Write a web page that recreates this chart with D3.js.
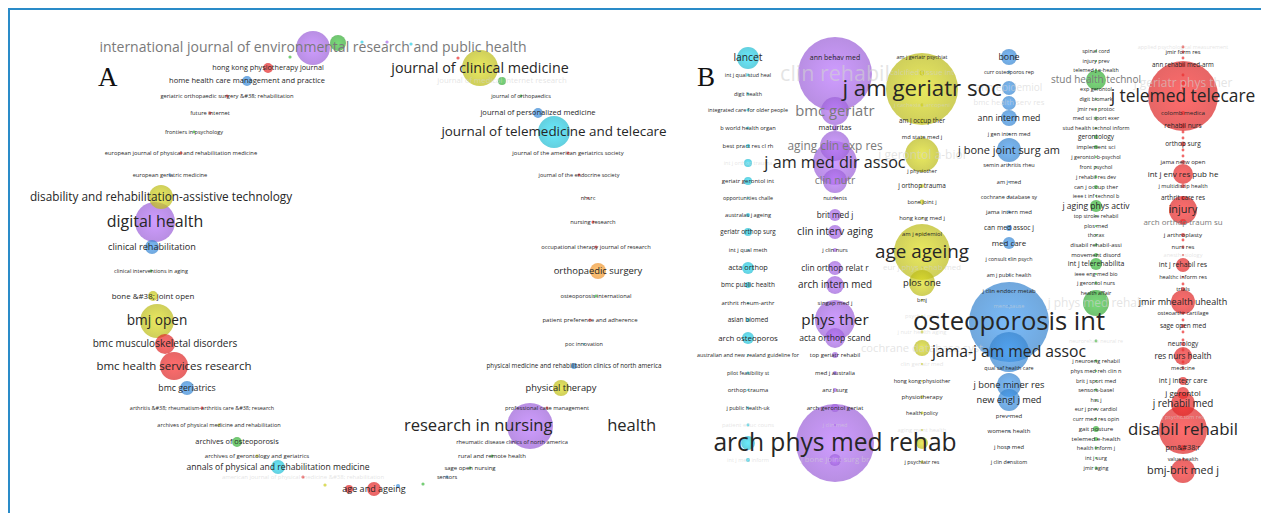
<!DOCTYPE html>
<html>
<head>
<meta charset="utf-8">
<script src="https://cdn.jsdelivr.net/npm/d3@7"></script>
<style>
  body { margin: 0; background: #fff; }
  text { font-family: "Open Sans", sans-serif; }
</style>
</head>
<body>
<div id="main"></div>
<script>
/* Size */
const width = 1261, height = 513;

/* Panel A : journals  [name, x, y, label score, node weight] */
const purpleA = [
  ["international journal of environmental research and public health", -0.27, 2.22, 44, 72],
  ["digital health", -1.85, 0.48, 54, 100],
  ["research in nursing &#38; health", 1.90, -1.56, 57, 132],
  ["rheumatic disease clinics of north america", 1.72, -1.72, 1.5, 0.6]
];
const redA = [
  ["hong kong physiotherapy journal", -0.72, 2.02, 9.5, 6],
  ["geriatric orthopaedic surgery &#38; rehabilitation", -1.13, 1.74, 2, 0.6],
  ["future internet", -1.30, 1.57, 2, 0.6],
  ["european journal of physical and rehabilitation medicine", -1.59, 1.17, 2, 0.6],
  ["bmc musculoskeletal disorders", -1.75, -0.74, 23.5, 25],
  ["bmc health services research", -1.66, -0.96, 31, 49],
  ["arthritis &#38; rheumatism-arthritis care &#38; research", -1.38, -1.38, 0.5, 0.5],
  ["american journal of physical medicine &#38; rehabilitation", -0.37, -2.07, 3, 0.6],
  ["age and ageing", 0.34, -2.19, 18.5, 12],
  ["professional case management", 2.07, -1.38, 2, 0.5],
  ["patient preference and adherence", 2.50, -0.50, 3, 0.6],
  ["occupational therapy journal of research", 2.56, 0.23, 2, 0.6],
  ["nursing research", 2.53, 0.48, 2, 0.6],
  ["nhsrc", 2.48, 0.72, 1.5, 0.3],
  ["journal of the endocrine society", 2.39, 0.95, 0.5, 0.5],
  ["journal of the american geriatrics society", 2.28, 1.17, 2.5, 0.6]
];
const blueA = [
  ["home health care management and practice", -0.93, 1.89, 11, 6],
  ["european geriatric medicine", -1.70, 0.95, 1.5, 0.5],
  ["clinical rehabilitation", -1.88, 0.23, 19, 12],
  ["bmc geriatrics", -1.53, -1.18, 17, 12],
  ["sensors", 1.07, -2.07, 1, 0.5],
  ["physical medicine and rehabilitation clinics of north america", 2.34, -0.96, 4.5, 2.25],
  ["journal of personalized medicine", 1.98, 1.57, 11, 6]
];
const greenA = [
  ["frontiers in psychology", -1.46, 1.38, 0.5, 0.5],
  ["clinical interventions in aging", -1.89, -0.01, 0.5, 0.5],
  ["archives of osteoporosis", -1.03, -1.72, 10, 6],
  ["sage open nursing", 1.30, -1.98, 3, 0.5],
  ["rural and remote health", 1.52, -1.86, 3.5, 0.6],
  ["osteoporosis international", 2.56, -0.26, 2, 0.6],
  ["journal of orthopaedics", 1.81, 1.74, 0.5, 0.5],
  ["journal of medical internet research", 1.62, 1.89, 12, 4]
];
const yellowA = [
  ["disability and rehabilitation-assistive technology", -1.79, 0.73, 32.5, 36],
  ["bone &#38; joint open", -1.87, -0.26, 13, 6],
  ["bmj open", -1.83, -0.51, 42, 72],
  ["archives of physical medicine and rehabilitation", -1.21, -1.55, 1, 0.5],
  ["archives of gerontology and geriatrics", -0.83, -1.86, 3, 0.5],
  ["physical therapy", 2.21, -1.18, 20, 16],
  ["journal of clinical medicine", 1.40, 2.02, 45.5, 81]
];
const cyanA = [
  ["annals of physical and rehabilitation medicine", -0.62, -1.97, 16.3, 12],
  ["journal of telemedicine and telecare", 2.14, 1.38, 41, 64],
  ["poc innovation", 2.44, -0.74, 0.5, 0.3]
];
const orangeA = [
  ["orthopaedic surgery", 2.58, -0.01, 20.5, 16]
];
/* nodes whose labels are not shown  [cluster, x, y, weight] */
const dotsA = [
  ["green", -0.02, 2.27, 16], ["green", -0.50, 2.13, 0.6], ["cyan", 0.22, 2.28, 0.6],
  ["purple", 0.47, 2.28, 0.6], ["cyan", 0.71, 2.26, 0.6], ["red", 1.18, 2.12, 0.6],
  ["red", 0.09, -2.19, 4], ["blue", 0.58, -2.16, 1], ["green", 0.83, -2.14, 0.6],
  ["yellow", -0.15, -2.15, 0.6]
];
const fadedA = ["journal of medical internet research", "american journal of physical medicine &#38; rehabilitation"];
const greyA = ["international journal of environmental research and public health"];
const maskedA = ["research in nursing &#38; health"];

/* Panel B : cited sources, one column per cluster  [name, y, label score, node weight] */
const clustersB = ["cyan", "purple", "yellow", "blue", "green", "red"];
const cyanB = [
  ["lancet", 2.12, 25, 30], ["int j qual stud heal", 1.95, 0, 0.5], ["digit health", 1.76, 0, 0.5],
  ["integrated care for older people", 1.60, 0, 0.5], ["b world health organ", 1.42, 1.5, 0.5],
  ["best pract res cl rh", 1.24, 2.5, 1], ["int j orthop trauma", 1.07, 0.5, 4],
  ["geriatr gerontol int", 0.89, 3, 4], ["opportunities challe", 0.72, 0, 0.3],
  ["australas j ageing", 0.55, 1.5, 1], ["geriatr orthop surg", 0.38, 4.5, 4],
  ["int j qual meth", 0.20, 1.5, 0.3], ["acta orthop", 0.02, 10, 9],
  ["bmc public health", -0.15, 5.5, 2.25], ["arthrit rheum-arthr", -0.33, 2.5, 0.3],
  ["asian biomed", -0.50, 5.5, 1], ["arch osteoporos", -0.68, 12.5, 9],
  ["australian and new zealand guideline for", -0.85, 0, 0.3], ["pilot feasibility st", -1.03, 0, 0.5],
  ["orthop trauma", -1.20, 2.5, 0.3], ["j public health-uk", -1.38, 0, 0.5],
  ["patient educ couns", -1.55, 2.5, 0.5], ["int j med inform", -1.90, 1, 1]
];
const purpleB = [
  ["clin rehabil", 1.96, 82, 342], ["ann behav med", 2.12, 8, 1], ["bmc geriatr", 1.59, 48, 49],
  ["maturitas", 1.42, 10, 2.25], ["aging clin exp res", 1.24, 33, 56],
  ["j am med dir assoc", 1.07, 55, 121], ["clin nutr", 0.89, 26.5, 36], ["nutrients", 0.72, 1, 0.5],
  ["brit med j", 0.55, 14, 9], ["clin interv aging", 0.38, 25.5, 12], ["j clin nurs", 0.20, 1.5, 1],
  ["clin orthop relat r", 0.02, 15, 12], ["arch intern med", -0.15, 23, 20],
  ["singap med j", -0.33, 2.5, 0.3], ["phys ther", -0.50, 50.5, 100], ["acta orthop scand", -0.68, 16, 25],
  ["top geriatr rehabil", -0.85, 3, 2.25], ["med j australia", -1.03, 2, 1], ["anz j surg", -1.20, 1.5, 1],
  ["arch gerontol geriat", -1.38, 4, 4], ["j clin med", -1.55, 1, 0.3],
  ["arch phys med rehab", -1.73, 98, 380], ["j bone joint surg br", -1.90, 12, 9]
];
const yellowB = [
  ["j am geriatr soc", 1.81, 86, 324], ["am j geriatr psychiat", 2.13, 0, 0.3],
  ["calcified tissue int", 1.97, 12, 1.5], ["j cachexia sarcopeni", 1.65, 3, 0.5],
  ["am j occup ther", 1.49, 5, 1.5], ["md state med j", 1.33, 2, 0.3], ["j gerontol a-biol", 1.15, 33.5, 72],
  ["j physiother", 0.99, 0, 0.3], ["j orthop trauma", 0.84, 5.5, 1], ["bone joint j", 0.68, 1, 1.5],
  ["hong kong med j", 0.52, 2.5, 0.3], ["am j epidemiol", 0.36, 2, 0.5], ["age ageing", 0.18, 68.5, 196],
  ["eur j phys rehab med", 0.03, 12.5, 0.3], ["plos one", -0.13, 21, 42], ["bmj", -0.30, 1, 0.3],
  ["psychol med", -0.46, 2, 0.3], ["j nutr health aging", -0.62, 2, 0.5],
  ["cochrane database syst", -0.78, 29.5, 16], ["clin geriatr med", -0.94, 2.5, 0.3],
  ["hong kong physiother", -1.11, 1, 0.3], ["physiotherapy", -1.27, 4, 0.5],
  ["health policy", -1.43, 0, 0.5], ["aging ment health", -1.60, 2, 0.3], ["j psychiatr res", -1.92, 0, 0.5]
];
const blueB = [
  ["bone", 2.13, 17.5, 16], ["curr osteoporos rep", 1.98, 0, 0.5], ["ann epidemiol", 1.82, 23.5, 12],
  ["bmc health serv res", 1.67, 12, 12], ["ann intern med", 1.52, 17, 16], ["j gen intern med", 1.36, 1, 0.3],
  ["j bone joint surg am", 1.20, 28.5, 36], ["semin arthritis rheu", 1.05, 1, 0.3], ["am j med", 0.88, 1, 0.3],
  ["cochrane database sy", 0.73, 1, 0.3], ["jama intern med", 0.58, 3, 0.5], ["can med assoc j", 0.42, 7, 2.25],
  ["med care", 0.27, 13, 9], ["j consult clin psych", 0.11, 0, 0.3], ["am j public health", -0.05, 0, 0.3],
  ["j clin endocr metab", -0.21, 3, 0.5], ["menopause", -0.36, 1, 0.3], ["osteoporosis int", -0.52, 103, 400],
  ["jama-j am med assoc", -0.82, 52.5, 100], ["qual saf health care", -0.98, 0, 0.3],
  ["j bone miner res", -1.15, 20, 36], ["new engl j med", -1.30, 19.5, 30], ["prev med", -1.46, 3, 0.3],
  ["womens health", -1.61, 3, 0.3], ["j hosp med", -1.77, 2, 0.3], ["j clin densitom", -1.92, 0, 0.3]
];
const greenB = [
  ["spinal cord", 2.19, 0, 0.3], ["injury prev", 2.09, 0, 0.3], ["telemed j e-health", 2.00, 0, 0.3],
  ["stud health technol", 1.90, 23.5, 25], ["exp gerontol", 1.81, 0, 0.3], ["digit biomark", 1.71, 0, 0.3],
  ["jmir res protoc", 1.61, 0, 0.3], ["med sci sport exer", 1.52, 0, 0.5],
  ["stud health technol inform", 1.42, 0, 0.3], ["gerontology", 1.33, 5.5, 1], ["implement sci", 1.23, 3, 1],
  ["j gerontol b-psychol", 1.13, 0, 0.3], ["front psychol", 1.03, 0, 0.3], ["j rehabil res dev", 0.93, 0, 0.5],
  ["can j occup ther", 0.83, 3, 1], ["ieee t inf technol b", 0.74, 0, 0.3], ["j aging phys activ", 0.64, 16, 9],
  ["top stroke rehabil", 0.54, 0, 0.3], ["plos med", 0.44, 1, 0.3], ["thorax", 0.35, 0, 0.3],
  ["disabil rehabil-assi", 0.25, 3, 0.5], ["movement disord", 0.15, 3, 1], ["int j telerehabilita", 0.06, 8, 9],
  ["ieee eng med bio", -0.04, 0, 0.3], ["j gerontol nurs", -0.13, 1, 0.5], ["health affair", -0.23, 0, 0.3],
  ["j phys med rehab", -0.33, 33.5, 42], ["neurorehab neural re", -0.71, 0, 0.5],
  ["j neuroeng rehabil", -0.91, 1, 0.5], ["phys med reh clin n", -1.01, 1, 0.3],
  ["brit j sport med", -1.11, 1, 0.3], ["sensors-basel", -1.20, 1, 0.5], ["hss j", -1.30, 0, 0.3],
  ["eur j prev cardiol", -1.39, 0, 0.3], ["curr med res opin", -1.49, 1, 0.3], ["gait posture", -1.59, 4, 2.25],
  ["telemed e-health", -1.69, 4, 1], ["health inform j", -1.78, 1, 0.5], ["int j surg", -1.88, 0, 0.3],
  ["jmir aging", -1.98, 0, 0.5]
];
const redB = [
  ["applied psychological measurement", 2.23, 0, 0.5], ["jmir form res", 2.18, 2, 0.5],
  ["ann rehabil med-arm", 2.05, 4.5, 1], ["j geriatr phys ther", 1.87, 33.5, 1], ["j telemed telecare", 1.74, 61, 306],
  ["colomb medica", 1.57, 4, 1], ["rehabil nurs", 1.44, 6.5, 1.5], ["orthop surg", 1.26, 5.5, 1.5],
  ["jama netw open", 1.08, 3, 1], ["int j env res pub he", 0.96, 13, 25], ["j multidiscip health", 0.84, 1, 1],
  ["arthrit care res", 0.72, 5, 1], ["injury", 0.60, 28, 49], ["arch orthop traum su", 0.48, 13, 2.25],
  ["j arthroplasty", 0.35, 4, 1], ["nurs res", 0.23, 3, 0.5], ["anesthesiology", 0.15, 1, 0.3],
  ["int j rehabil res", 0.05, 8, 12], ["healthc inform res", -0.07, 1, 0.3], ["trials", -0.19, 3, 1],
  ["jmir mhealth uhealth", -0.32, 18.5, 36], ["osteoarthr cartilage", -0.43, 1, 0.5], ["sage open med", -0.56, 5.5, 1],
  ["neurology", -0.74, 5.5, 1], ["res nurs health", -0.86, 14, 20], ["medicine", -0.98, 1, 0.5],
  ["int j integr care", -1.11, 8, 4], ["j gerontol", -1.23, 13, 9], ["j rehabil med", -1.34, 23, 36],
  ["j psychosom res", -1.47, 1, 0.3], ["disabil rehabil", -1.60, 58.5, 144], ["pm&#38;r", -1.78, 10, 2.25],
  ["value health", -1.89, 0, 0.3], ["bmj-brit med j", -2.01, 28, 36]
];
/* unlabeled nodes  [cluster, y, weight] */
const dotsB = [
  ["cyan", -1.73, 12], ["yellow", -1.73, 9], ["red", 2.12, 0.5], ["red", 1.95, 0.5], ["red", 1.82, 0.5],
  ["red", 1.38, 0.5], ["red", 1.32, 0.5], ["red", 1.20, 0.5], ["red", 1.14, 0.5], ["red", 0.30, 0.5],
  ["red", -0.14, 0.5], ["red", -0.50, 0.5], ["red", -0.62, 0.5], ["red", -0.70, 0.5], ["red", -0.80, 0.5],
  ["red", -0.92, 0.5]
];
const fadedB = ["int j orthop trauma", "patient educ couns", "int j med inform", "clin rehabil", "j clin med",
  "j bone joint surg br", "calcified tissue int", "j cachexia sarcopeni", "j gerontol a-biol", "eur j phys rehab med",
  "psychol med", "j nutr health aging", "cochrane database syst", "clin geriatr med", "aging ment health",
  "ann epidemiol", "bmc health serv res", "menopause", "j phys med rehab", "neurorehab neural re",
  "applied psychological measurement", "j geriatr phys ther", "anesthesiology", "j psychosom res"];
const greyB = ["bmc geriatr", "aging clin exp res", "clin nutr", "stud health technol", "arch orthop traum su"];

/* Colours */
const color = {purple: "#9d63d8", yellow: "#bcbc1c", blue: "#3a86cf", cyan: "#27bdd2",
  green: "#3aab3a", red: "#dc2b2b", orange: "#ee9533"};

/* Scales */
const xA = d3.scaleLinear().domain([-3.4, 3.4]).range([0, 680]);
const yMap = d3.scaleLinear().domain([2.7, -2.43]).range([0, 513]);
const xB = d3.scalePoint().domain(clustersB).range([748, 1183]);
const rScale = d3.scaleSqrt().domain([0, 400]).range([0, 40]);
const fontScale = d3.scaleLinear().domain([0, 100]).range([5.4, 25]);

/* Build records */
const itemsA = [];
[["purple", purpleA], ["red", redA], ["blue", blueA], ["green", greenA],
 ["yellow", yellowA], ["cyan", cyanA], ["orange", orangeA]].forEach(([c, arr]) => {
  arr.forEach(d => itemsA.push({name: d[0], c, x: xA(d[1]), y: yMap(d[2]), s: d[3], w: d[4],
    faded: fadedA.includes(d[0]), grey: greyA.includes(d[0]), masked: maskedA.includes(d[0])}));
});
dotsA.forEach(d => itemsA.push({name: "", c: d[0], x: xA(d[1]), y: yMap(d[2]), s: 0, w: d[3]}));

const itemsB = [];
[["cyan", cyanB], ["purple", purpleB], ["yellow", yellowB], ["blue", blueB],
 ["green", greenB], ["red", redB]].forEach(([c, arr]) => {
  arr.forEach(d => itemsB.push({name: d[0], c, x: xB(c), y: yMap(d[1]), s: d[2], w: d[3],
    faded: fadedB.includes(d[0]), grey: greyB.includes(d[0]), masked: false}));
});
dotsB.forEach(d => itemsB.push({name: "", c: d[0], x: xB(d[0]), y: yMap(d[1]), s: 0, w: d[2]}));

const all = itemsA.concat(itemsB);

/* Svg */
const svg = d3.select("#main").append("svg").attr("width", width).attr("height", height);

const defs = svg.append("defs");
Object.entries(color).forEach(([k, v]) => {
  const g = defs.append("radialGradient").attr("id", "g-" + k);
  g.append("stop").attr("offset", "0%").attr("stop-color", d3.color(v).brighter(0.5));
  g.append("stop").attr("offset", "100%").attr("stop-color", v);
});

// frame
svg.append("line").attr("x1", 9).attr("x2", width).attr("y1", 9).attr("y2", 9)
  .attr("stroke", "#2a8bc8").attr("stroke-width", 2);
svg.append("line").attr("x1", 9).attr("x2", 9).attr("y1", 8).attr("y2", height)
  .attr("stroke", "#2a8bc8").attr("stroke-width", 2);

function drawLabel(sel) {
  sel.attr("x", d => d.x).attr("y", d => d.y).attr("dy", "0.32em")
    .attr("text-anchor", "middle")
    .style("font-size", d => fontScale(d.s) + "px")
    .each(function (d) {
      const t = d3.select(this);
      if (d.masked) {
        const parts = d.name.split("&#38;");
        t.append("tspan").text(parts[0]);
        t.append("tspan").text("&#38;").style("fill-opacity", 0);
        t.append("tspan").text(parts[1]);
      } else t.text(d.name);
    });
}

/* bubbles, big ones first */
svg.append("g").selectAll("circle")
  .data(all.slice().sort((a, b) => b.w - a.w))
  .join("circle")
  .attr("cx", d => d.x).attr("cy", d => d.y)
  .attr("r", d => rScale(d.w))
  .attr("fill", d => `url(#g-${d.c})`)
  .attr("fill-opacity", 0.72);

/* faded labels, then the normal ones on top */
svg.append("g").selectAll("text")
  .data(all.filter(d => d.name && d.faded).sort((a, b) => a.s - b.s))
  .join("text").style("fill", "#d2d2d2").style("fill-opacity", 0.6).call(drawLabel);

svg.append("g").selectAll("text")
  .data(all.filter(d => d.name && !d.faded).sort((a, b) => a.s - b.s))
  .join("text").style("fill", d => d.grey ? "#7a7a7a" : "#262626").call(drawLabel);

/* panel letters */
svg.append("text").attr("x", 98).attr("y", 86).text("A")
  .style("font-family", "'Liberation Serif', serif").style("font-size", "27px").style("fill", "#111");
svg.append("text").attr("x", 697).attr("y", 86).text("B")
  .style("font-family", "'Liberation Serif', serif").style("font-size", "27px").style("fill", "#111");
</script>
</body>
</html>
